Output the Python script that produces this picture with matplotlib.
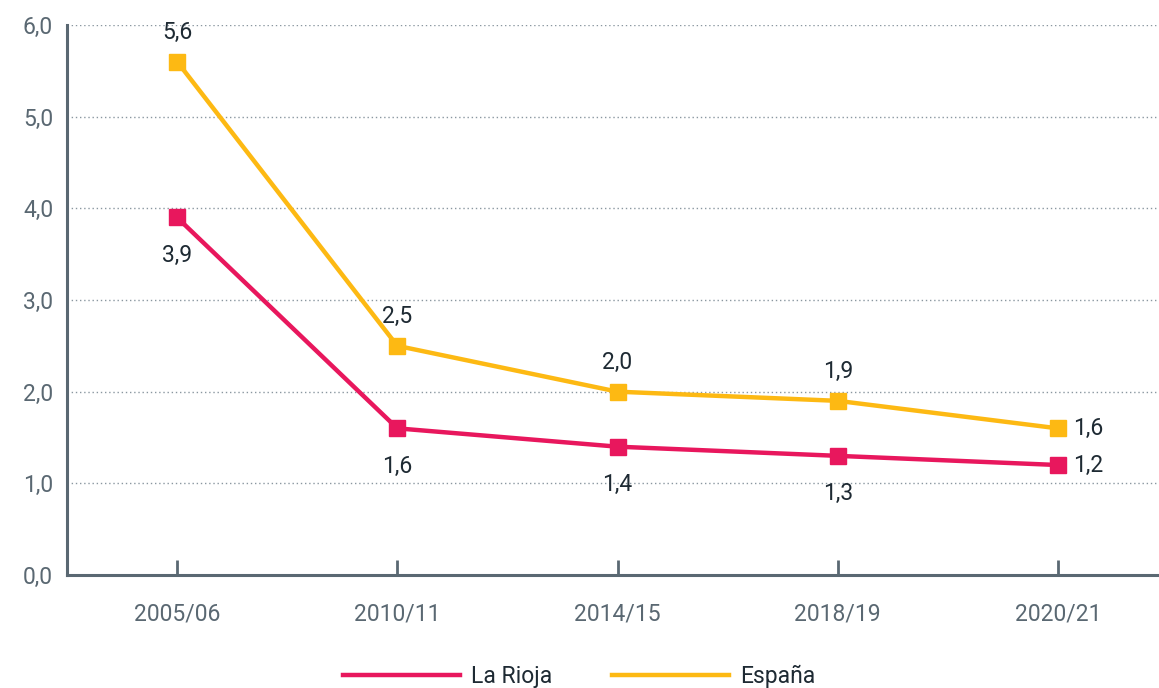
import matplotlib
matplotlib.use("Agg")
import matplotlib.pyplot as plt

plt.rcParams['font.family'] = ['Roboto', 'DejaVu Sans']

periodos = ['2005/06', '2010/11', '2014/15', '2018/19', '2020/21']
la_rioja = [3.9, 1.6, 1.4, 1.3, 1.2]
espana = [5.6, 2.5, 2.0, 1.9, 1.6]

c_rioja = '#E8175D'
c_espana = '#FDB913'
c_axis = '#5A6872'
c_text = '#1E2A33'
fs = 16.5

fig = plt.figure(figsize=(11.59, 6.88), dpi=100)
ax = fig.add_axes([0.0578, 0.1642, 0.9405, 0.7995])

x = list(range(len(periodos)))
ax.plot(x, la_rioja, color=c_rioja, lw=3.2, marker='s', ms=11, label='La Rioja', zorder=3)
ax.plot(x, espana, color=c_espana, lw=3.2, marker='s', ms=11, label='España', zorder=3)

fmt = lambda v: f'{v:.1f}'.replace('.', ',')
for i, v in enumerate(espana):
    if i == len(espana) - 1:
        ax.annotate(fmt(v), (i, v), xytext=(11, 0), textcoords='offset points',
                    ha='left', va='center', fontsize=fs, color=c_text)
    else:
        ax.annotate(fmt(v), (i, v), xytext=(0, 13), textcoords='offset points',
                    ha='center', va='bottom', fontsize=fs, color=c_text)
for i, v in enumerate(la_rioja):
    if i == len(la_rioja) - 1:
        ax.annotate(fmt(v), (i, v), xytext=(11, 0), textcoords='offset points',
                    ha='left', va='center', fontsize=fs, color=c_text)
    else:
        ax.annotate(fmt(v), (i, v), xytext=(0, -19), textcoords='offset points',
                    ha='center', va='top', fontsize=fs, color=c_text)

ax.set_xlim(-0.5, 4.45)
ax.set_ylim(0, 6)
ax.set_yticks([0, 1, 2, 3, 4, 5, 6])
ax.set_yticklabels([fmt(v) for v in range(7)])
ax.set_xticks(x)
ax.set_xticklabels(periodos)
ax.tick_params(axis='y', length=0, pad=10, labelsize=fs, labelcolor=c_axis)
ax.tick_params(axis='x', direction='in', length=11, width=2, color=c_axis,
               pad=20, labelsize=fs, labelcolor=c_axis)

ax.grid(axis='y', linestyle=(0, (1, 2)), color='#8A97A0', lw=1)
ax.set_axisbelow(True)
for s in ['top', 'right']:
    ax.spines[s].set_visible(False)
for s in ['left', 'bottom']:
    ax.spines[s].set_color(c_axis)
    ax.spines[s].set_linewidth(2.2)

leg = fig.legend(handles=ax.lines, labels=['La Rioja', 'España'], loc='lower center',
                 bbox_to_anchor=(0.5, -0.03), ncol=2, frameon=False, fontsize=fs,
                 handlelength=5.1, columnspacing=2.6, handletextpad=0.5)
for h in leg.legend_handles:
    h.set_marker('')
for t in leg.get_texts():
    t.set_color(c_text)

fig.savefig('out.png', dpi=100)
